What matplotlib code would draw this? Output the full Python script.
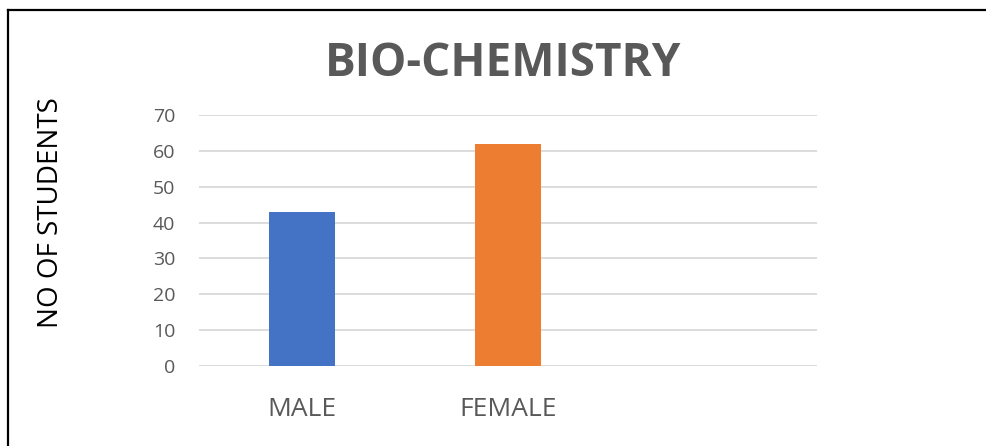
import matplotlib.pyplot as plt
from matplotlib.lines import Line2D

# Data
categories = ["MALE", "FEMALE"]
students = [43, 62]
bar_colors = ["#4472C4", "#ED7D31"]
y_ticks = [0, 10, 20, 30, 40, 50, 60, 70]

plt.rcParams['font.family'] = ['Open Sans', 'DejaVu Sans']

fig = plt.figure(figsize=(9.87, 4.46), dpi=100)
ax = fig.add_axes([0.2016, 0.1794, 0.626, 0.5626])

x = range(len(categories))
ax.bar(x, students, width=0.32, color=bar_colors, zorder=3)

ax.set_xlim(-0.5, 2.5)
ax.set_ylim(0, 70)
ax.set_yticks(y_ticks)
ax.set_xticks(list(x))
ax.set_xticklabels(categories, fontsize=19, color="#595959")
ax.tick_params(axis='y', labelsize=14, colors="#595959", length=0, pad=17)
ax.tick_params(axis='x', length=0, pad=22)

ax.grid(axis='y', color="#d9d9d9", linewidth=1.3, zorder=0)
for s in ax.spines.values():
    s.set_visible(False)

# y axis title
fig.text(51 / 987, 1 - 213 / 446, "NO OF STUDENTS", fontsize=20, color="black",
         rotation=90, ha='center', va='center')

fig.text(503 / 987, 1 - 64 / 446, "BIO-CHEMISTRY", fontsize=33, fontweight='bold',
         color="#595959", ha='center', va='center')

# chart border (only top and left edges are visible in the crop)
fig.add_artist(Line2D([0.0081, 1.0], [0.9776, 0.9776], color="black", linewidth=1.6,
                      transform=fig.transFigure))
fig.add_artist(Line2D([0.0081, 0.0081], [0.0, 0.9776], color="black", linewidth=1.6,
                      transform=fig.transFigure))

fig.savefig("out.png", dpi=100)
